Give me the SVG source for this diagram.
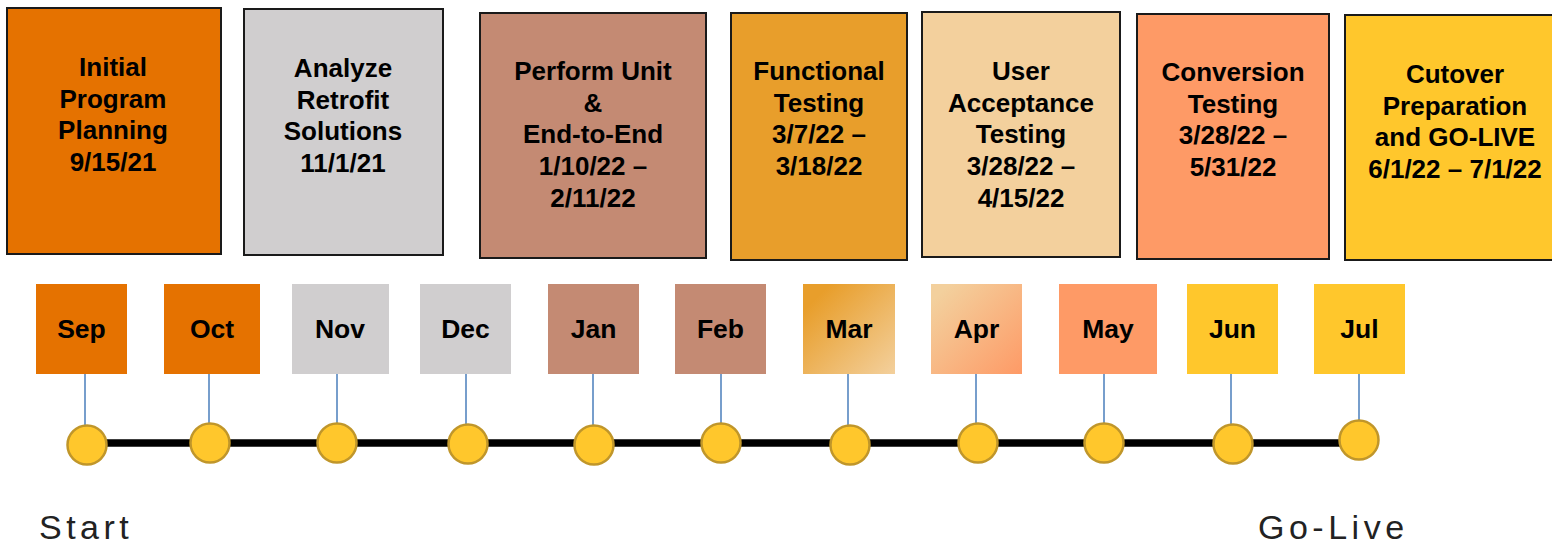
<svg xmlns="http://www.w3.org/2000/svg" width="1552" height="546" viewBox="0 0 1552 546">
<style>
.phase{stroke:#1a1a1a;stroke-width:2}
.pt{font-family:"Liberation Sans",Arial,sans-serif;font-weight:bold;font-size:26px;fill:#000;text-anchor:middle}
.mt{font-family:"Liberation Sans",Arial,sans-serif;font-weight:bold;font-size:26.5px;fill:#000;text-anchor:middle}
.tick{stroke:#4A7EBB;stroke-width:1.5}
.dot{fill:#FFC72C;stroke:#C0962A;stroke-width:2.5}
.big{font-family:"Liberation Sans",Arial,sans-serif;font-size:34px;fill:#222;letter-spacing:4.5px}
</style>
<defs>
<linearGradient id="gMar" x1="0" y1="0" x2="1" y2="1">
<stop offset="0.15" stop-color="#E89E2B"/><stop offset="1" stop-color="#F3D09D"/>
</linearGradient>
<linearGradient id="gApr" x1="0" y1="0" x2="1" y2="1">
<stop offset="0.1" stop-color="#F3D09D"/><stop offset="1" stop-color="#FE9A66"/>
</linearGradient>
</defs>
<rect width="1552" height="546" fill="#fff"/>

<g id="phase-initial"><rect class="phase" x="7" y="8" width="214" height="246" fill="#E57200"/>
<text class="pt"><tspan x="113" y="76">Initial</tspan><tspan x="113" y="108">Program</tspan><tspan x="113" y="139">Planning</tspan><tspan x="113" y="171">9/15/21</tspan></text></g>
<g id="phase-analyze"><rect class="phase" x="244" y="9" width="199" height="246" fill="#D0CECF"/>
<text class="pt"><tspan x="343" y="77">Analyze</tspan><tspan x="343" y="109">Retrofit</tspan><tspan x="343" y="140">Solutions</tspan><tspan x="343" y="172">11/1/21</tspan></text></g>
<g id="phase-perform"><rect class="phase" x="480" y="13" width="226" height="245" fill="#C48A73"/>
<text class="pt"><tspan x="593" y="80">Perform Unit</tspan><tspan x="593" y="112">&amp;</tspan><tspan x="593" y="143">End-to-End</tspan><tspan x="593" y="175">1/10/22 –</tspan><tspan x="593" y="207">2/11/22</tspan></text></g>
<g id="phase-functional"><rect class="phase" x="731" y="13" width="176" height="247" fill="#E89E2B"/>
<text class="pt"><tspan x="819" y="80">Functional</tspan><tspan x="819" y="112">Testing</tspan><tspan x="819" y="143">3/7/22 –</tspan><tspan x="819" y="175">3/18/22</tspan></text></g>
<g id="phase-uat"><rect class="phase" x="922" y="12" width="198" height="245" fill="#F3D09D"/>
<text class="pt"><tspan x="1021" y="80">User</tspan><tspan x="1021" y="112">Acceptance</tspan><tspan x="1021" y="143">Testing</tspan><tspan x="1021" y="175">3/28/22 –</tspan><tspan x="1021" y="207">4/15/22</tspan></text></g>
<g id="phase-conversion"><rect class="phase" x="1137" y="14" width="192" height="245" fill="#FE9A66"/>
<text class="pt"><tspan x="1233" y="81">Conversion</tspan><tspan x="1233" y="113">Testing</tspan><tspan x="1233" y="144">3/28/22 –</tspan><tspan x="1233" y="176">5/31/22</tspan></text></g>
<g id="phase-cutover"><rect class="phase" x="1345" y="15" width="212" height="245" fill="#FFC72C"/>
<text class="pt"><tspan x="1455" y="83">Cutover</tspan><tspan x="1455" y="115">Preparation</tspan><tspan x="1455" y="146">and GO-LIVE</tspan><tspan x="1455" y="178">6/1/22 – 7/1/22</tspan></text></g>

<g id="connectors">
<line x1="87" y1="443" x2="1359" y2="443" stroke="#000" stroke-width="7.5"/>
<line class="tick" x1="85" y1="374" x2="85" y2="425"/>
<line class="tick" x1="209" y1="374" x2="209" y2="423"/>
<line class="tick" x1="337" y1="374" x2="337" y2="423"/>
<line class="tick" x1="466" y1="374" x2="466" y2="424"/>
<line class="tick" x1="593" y1="374" x2="593" y2="425"/>
<line class="tick" x1="721" y1="374" x2="721" y2="423"/>
<line class="tick" x1="848" y1="374" x2="848" y2="425"/>
<line class="tick" x1="976" y1="374" x2="976" y2="423"/>
<line class="tick" x1="1104" y1="374" x2="1104" y2="423"/>
<line class="tick" x1="1231" y1="374" x2="1231" y2="424"/>
<line class="tick" x1="1359" y1="374" x2="1359" y2="420"/>
</g>

<g id="month-sep"><rect x="36" y="284" width="91" height="90" fill="#E57200"/><text class="mt" x="81.5" y="338">Sep</text><circle class="dot" cx="87" cy="445" r="19.5"/></g>
<g id="month-oct"><rect x="164" y="284" width="96" height="90" fill="#E57200"/><text class="mt" x="212" y="338">Oct</text><circle class="dot" cx="210" cy="443" r="19.5"/></g>
<g id="month-nov"><rect x="292" y="284" width="97" height="90" fill="#D0CECF"/><text class="mt" x="340" y="338">Nov</text><circle class="dot" cx="337" cy="443" r="19.5"/></g>
<g id="month-dec"><rect x="420" y="284" width="91" height="90" fill="#D0CECF"/><text class="mt" x="465.5" y="338">Dec</text><circle class="dot" cx="468" cy="444" r="19.5"/></g>
<g id="month-jan"><rect x="548" y="284" width="91" height="90" fill="#C48A73"/><text class="mt" x="593.5" y="338">Jan</text><circle class="dot" cx="594" cy="445" r="19.5"/></g>
<g id="month-feb"><rect x="675" y="284" width="91" height="90" fill="#C48A73"/><text class="mt" x="720.5" y="338">Feb</text><circle class="dot" cx="721" cy="443" r="19.5"/></g>
<g id="month-mar"><rect x="803" y="284" width="92" height="90" fill="url(#gMar)"/><text class="mt" x="849" y="338">Mar</text><circle class="dot" cx="850" cy="445" r="19.5"/></g>
<g id="month-apr"><rect x="931" y="284" width="91" height="90" fill="url(#gApr)"/><text class="mt" x="976.5" y="338">Apr</text><circle class="dot" cx="978" cy="443" r="19.5"/></g>
<g id="month-may"><rect x="1059" y="284" width="98" height="90" fill="#FE9A66"/><text class="mt" x="1108" y="338">May</text><circle class="dot" cx="1104" cy="443" r="19.5"/></g>
<g id="month-jun"><rect x="1187" y="284" width="91" height="90" fill="#FFC72C"/><text class="mt" x="1232.5" y="338">Jun</text><circle class="dot" cx="1233" cy="444" r="19.5"/></g>
<g id="month-jul"><rect x="1314" y="284" width="91" height="90" fill="#FFC72C"/><text class="mt" x="1359.5" y="338">Jul</text><circle class="dot" cx="1359" cy="440" r="19.5"/></g>

<text class="big" x="39" y="539">Start</text>
<text class="big" x="1258" y="539">Go-Live</text>
</svg>
